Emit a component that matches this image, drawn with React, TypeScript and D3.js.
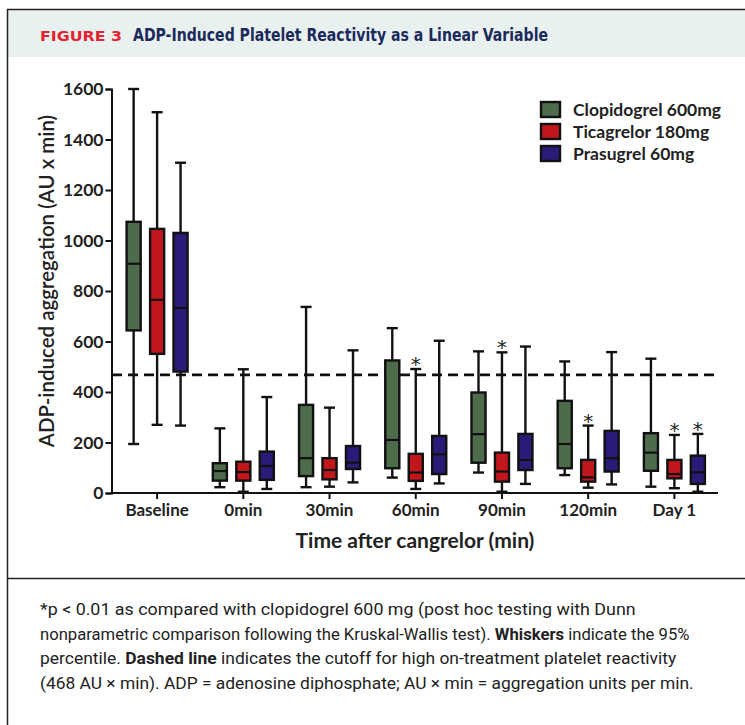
import React, { useEffect, useRef } from 'react';
import * as d3 from 'd3';

const categories = ["Baseline", "0min", "30min", "60min", "90min", "120min", "Day 1"];
const seriesNames = ["Clopidogrel 600mg", "Ticagrelor 180mg", "Prasugrel 60mg"];
const seriesColors = ["#4e6b4c", "#c2161d", "#2a1b78"];

// [whisker low, q1, median, q3, whisker high]
const clopidogrel = [
  [194, 644, 908, 1074, 1600],
  [23, 49, 87, 118, 256],
  [23, 67, 138, 349, 737],
  [61, 98, 210, 525, 653],
  [81, 120, 233, 398, 561],
  [71, 98, 194, 365, 521],
  [25, 88, 160, 237, 532],
];
const ticagrelor = [
  [270, 551, 765, 1046, 1508],
  [5, 49, 83, 124, 490],
  [25, 54, 91, 138, 338],
  [16, 48, 81, 155, 491],
  [5, 45, 85, 160, 557],
  [21, 45, 62, 131, 267],
  [19, 58, 75, 131, 230],
];
const prasugrel = [
  [267, 481, 733, 1030, 1308],
  [16, 52, 107, 164, 380],
  [42, 95, 120, 186, 565],
  [38, 75, 153, 226, 603],
  [36, 91, 131, 234, 580],
  [34, 85, 138, 246, 558],
  [5, 36, 82, 148, 234],
];
// * p < 0.01 vs clopidogrel
const clopidogrelSig = [0, 0, 0, 0, 0, 0, 0];
const ticagrelorSig = [0, 0, 0, 1, 1, 1, 1];
const prasugrelSig = [0, 0, 0, 0, 0, 0, 1];

const yTicks = [0, 200, 400, 600, 800, 1000, 1200, 1400, 1600];
const cutoff = 468;

const chartFont = "Lato, 'Open Sans', sans-serif";
const narrowFont = "'Liberation Sans Narrow', 'DejaVu Sans Condensed', sans-serif";

export default function App() {
  const ref = useRef<SVGSVGElement>(null);

  useEffect(() => {
    const svg = d3.select(ref.current);
    svg.selectAll("*").remove();

    const W = 745, H = 725;

    // frame + header
    svg.append("rect").attr("x", 7).attr("y", 9).attr("width", W).attr("height", 48).attr("fill", "#e8f1f0");
    svg.append("rect").attr("x", 7.5).attr("y", 9.5).attr("width", W + 10).attr("height", H + 10)
      .attr("fill", "none").attr("stroke", "#222").attr("stroke-width", 1.5);
    svg.append("line").attr("x1", 7).attr("x2", W).attr("y1", 578.5).attr("y2", 578.5)
      .attr("stroke", "#222").attr("stroke-width", 1.5);

    svg.append("text").attr("x", 40).attr("y", 41)
      .attr("fill", "#e32330").style("font-family", "'DejaVu Sans', sans-serif")
      .style("font-weight", "bold").style("font-size", "14px")
      .attr("textLength", 82).attr("lengthAdjust", "spacingAndGlyphs")
      .text("FIGURE 3");
    svg.append("text").attr("x", 133).attr("y", 41)
      .attr("fill", "#1b2a5a").style("font-family", narrowFont)
      .style("font-weight", "bold").style("font-size", "17px")
      .attr("textLength", 415).attr("lengthAdjust", "spacingAndGlyphs")
      .text("ADP-Induced Platelet Reactivity as a Linear Variable");

    // scales
    const x = d3.scaleBand().domain(categories).range([114, 717.5]).padding(0);
    const inner = d3.scaleBand().domain(seriesNames).range([-30.5, 30.5]).paddingInner(0.4);
    const y = d3.scaleLinear().domain([0, 1600]).range([493, 89]);
    const boxW = inner.bandwidth();

    const g = svg.append("g");

    // cutoff line
    g.append("line").attr("x1", 112).attr("x2", 718).attr("y1", y(cutoff)).attr("y2", y(cutoff))
      .attr("stroke", "#111").attr("stroke-width", 2.6).attr("stroke-dasharray", "10,6");

    const allStats = [clopidogrel, ticagrelor, prasugrel];
    const allSig = [clopidogrelSig, ticagrelorSig, prasugrelSig];

    allStats.forEach((stats, si) => {
      stats.forEach((s, ci) => {
        const cx = (x(categories[ci]) as number) + x.bandwidth() / 2 + (inner(seriesNames[si]) as number) + boxW / 2;
        const [lo, q1, med, q3, hi] = s;
        const bg = g.append("g");
        bg.append("line").attr("x1", cx).attr("x2", cx).attr("y1", y(hi)).attr("y2", y(lo))
          .attr("stroke", "#111").attr("stroke-width", 2.4);
        [lo, hi].forEach(v => {
          bg.append("line").attr("x1", cx - 5.5).attr("x2", cx + 5.5).attr("y1", y(v)).attr("y2", y(v))
            .attr("stroke", "#111").attr("stroke-width", 2.4);
        });
        bg.append("rect").attr("x", cx - boxW / 2).attr("y", y(q3)).attr("width", boxW)
          .attr("height", y(q1) - y(q3)).attr("fill", seriesColors[si])
          .attr("stroke", "#111").attr("stroke-width", 2.4);
        bg.append("line").attr("x1", cx - boxW / 2).attr("x2", cx + boxW / 2).attr("y1", y(med)).attr("y2", y(med))
          .attr("stroke", "#111").attr("stroke-width", 2.2);
        if (allSig[si][ci]) {
          bg.append("text").attr("x", cx).attr("y", y(hi) + 2).attr("text-anchor", "middle")
            .style("font-family", "'DejaVu Sans', sans-serif").style("font-size", "20px")
            .attr("fill", "#222").text("*");
        }
      });
    });

    // axes
    const yAxis = g.append("g").attr("transform", "translate(111.5,0)")
      .call(d3.axisLeft(y).tickValues(yTicks).tickSize(6).tickPadding(2).tickFormat(d3.format("d")));
    yAxis.select(".domain").attr("stroke", "#111").attr("stroke-width", 2);
    yAxis.selectAll(".tick line").attr("stroke", "#111").attr("stroke-width", 2);
    yAxis.selectAll(".tick text").attr("fill", "#222")
      .style("font-family", chartFont).style("font-weight", "bold").style("font-size", "17.5px");

    const xAxis = g.append("g").attr("transform", "translate(0,493)")
      .call(d3.axisBottom(x).tickSize(6).tickSizeOuter(0).tickPadding(5));
    xAxis.select(".domain").attr("stroke", "#111").attr("stroke-width", 2)
      .attr("d", "M111.5,0H718");
    xAxis.selectAll(".tick line").attr("stroke", "#111").attr("stroke-width", 2);
    xAxis.selectAll(".tick text").attr("fill", "#222")
      .style("font-family", chartFont).style("font-weight", "bold").style("font-size", "17px");

    // axis titles
    svg.append("text").attr("transform", "translate(54,281) rotate(-90)").attr("text-anchor", "middle")
      .attr("fill", "#222").style("font-family", chartFont).style("font-weight", "600").style("font-size", "20.5px")
      .text("ADP-induced aggregation (AU x min)");
    svg.append("text").attr("x", 415).attr("y", 548).attr("text-anchor", "middle")
      .attr("fill", "#222").style("font-family", chartFont).style("font-weight", "bold").style("font-size", "21px")
      .text("Time after cangrelor (min)");

    // legend
    const lg = svg.append("g").attr("transform", "translate(541,102)");
    seriesNames.forEach((name, i) => {
      lg.append("rect").attr("x", 0).attr("y", i * 22).attr("width", 19).attr("height", 15)
        .attr("fill", seriesColors[i]).attr("stroke", "#111").attr("stroke-width", 2.4);
      lg.append("text").attr("x", 32).attr("y", i * 22 + 14).attr("fill", "#222")
        .style("font-family", chartFont).style("font-weight", "bold").style("font-size", "17.5px")
        .text(name);
    });

    // caption: measure each line, then squeeze it to the reference width
    const cap = svg.append("g").style("font-family", "Roboto, sans-serif").style("font-size", "17px").attr("fill", "#222");
    const lines: [string, boolean][][] = [
      [["*p < 0.01 as compared with clopidogrel 600 mg (post hoc testing with Dunn", false]],
      [["nonparametric comparison following the Kruskal-Wallis test). ", false], ["Whiskers", true], [" indicate the 95%", false]],
      [["percentile. ", false], ["Dashed line", true], [" indicates the cutoff for high on-treatment platelet reactivity", false]],
      [["(468 AU \u00d7 min). ADP = adenosine diphosphate; AU \u00d7 min = aggregation units per min.", false]],
    ];
    const widths = [596, 650, 637, 654];
    lines.forEach((parts, i) => {
      const t = cap.append("text").attr("x", 0).attr("y", 0).style("white-space", "pre");
      parts.forEach(([s, b]) => {
        t.append("tspan").style("font-weight", b ? "bold" : "normal").text(s);
      });
      const len = (t.node() as SVGTextElement).getComputedTextLength() || widths[i];
      t.attr("transform", `translate(40,${615 + i * 24.5}) scale(${widths[i] / len},1)`);
    });
  }, []);

  return (
    <svg ref={ref} width={745} height={725}
      style={{ position: "absolute", left: 0, top: 0, background: "#fff" }} />
  );
}
